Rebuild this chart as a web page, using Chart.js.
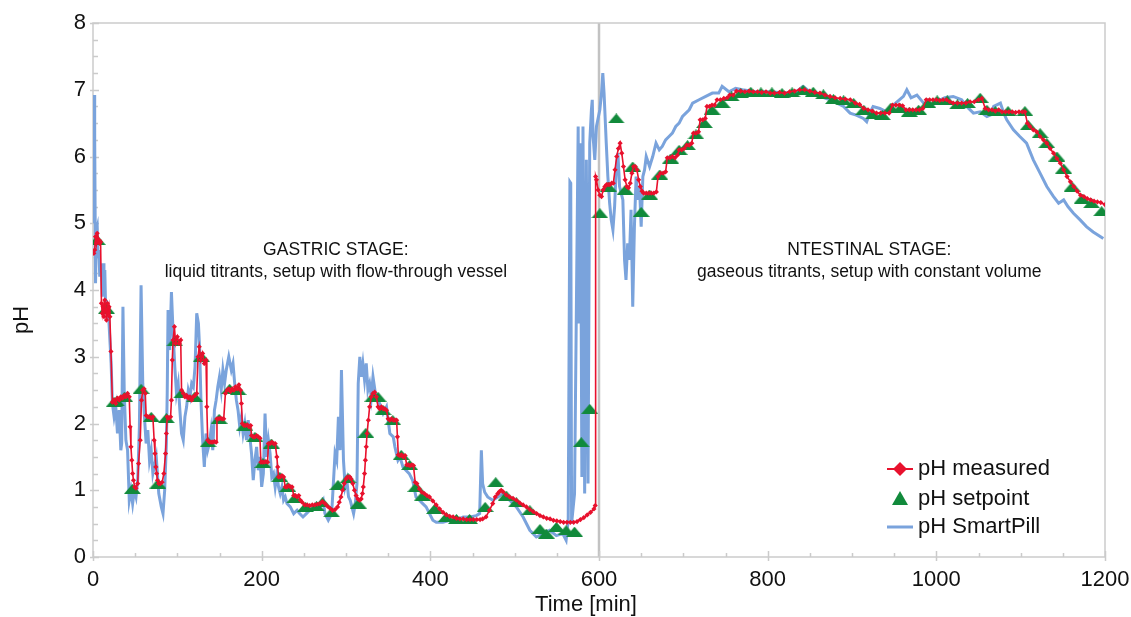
<!DOCTYPE html>
<html>
<head>
<meta charset="utf-8">
<script src="https://cdn.jsdelivr.net/npm/chart.js@4.4.1/dist/chart.umd.min.js"></script>
<style>
body { margin: 0; background: #fff; }
</style>
</head>
<body>
<canvas id="phChart" width="1131" height="617"></canvas>
<script>
// pH measured (red)
const measuredTime = [1,2,3,4,5,6,7,8,9,10,11,12,13,14,15,16,17,18,19,20,21.3,23,25,27,29,31,33,35,37,39,41,43,44,45,46,47,48,49.5,51,53,54,56,57.5,59,60.5,62,63,65,67,69,71,72.5,73.5,74.5,75.5,76.5,78,80,82,84,86,87,88,90,92,93,94,95,96.5,98,100,102,104,105,107,109,111,113,115,117,119,121,123,124.5,126,128,130,132,134,135,136,138,140,142,144,146,147,149,151,153,155,157,159,161,163,165,167,169,171,173,175,176,177,179,181,183,185,187,188,190,192,194,196,198,199,201,203,205,207,208,210,212,214,216,218,219,220,222,224,226,228,230,232,234,236,238,240,242,244,246,248,251,254,257,260,263,266,269,272,275,278,281,284,287,290,292,294,296,298,300,302,304.5,306,308,310,312,314,316,318,319.5,320.5,322,323,324,325,326.5,328,330,332,334,336,338,340,342,344,346,348,350,352,354,356,358,360,361,362,364,366,368,370,372,374,376,378,380,382,384,387,390,393,396,399,403,407,411,415,419,423,427,431,435,439,443,447,451,455,459,462,466,470,474,477,480,482,484,486,490,494,498,502,506,510,514,518,522,526,530,534,538,542,546,550,554,558,562,566,570,574,578,582,586,590,594,595.5,596,597,599,601,603,605,607,609,611,613,615,617,619,621,623,625,627,629,631,633,635,637,639,641,643,645,647,649,651,653,656,659,662,665,668,670,673,676,679,681,684,687,690,693,695,698,701,704,707,710,712,715,718,720,723,726,728,731,734,737,740,744,748,752,755,759,763,768,773,778,783,788,793,798,803,808,814,820,826,832,838,844,850,856,862,868,874,880,886,892,898,904,909,914,919,924,929,934,939,944,948,952,956,960,964,968,972,976,980,984,988,992,996,1000,1004,1008,1012,1016,1020,1025,1030,1035,1040,1045,1050,1054,1058,1062,1066,1070,1074,1078,1082,1086,1090,1094,1098,1102,1105,1108,1111,1115,1119,1123,1127,1131,1135,1139,1143,1147,1151,1155,1159,1163,1167,1171,1175,1179,1183,1187,1191,1195,1200];
const measuredPH = [4.55,4.6,4.8,4.7,4.85,4.72,4.75,4.7,4.72,3.8,3.65,3.75,3.6,3.85,3.7,3.55,3.8,3.65,3.75,3.6,3.08,2.32,2.35,2.3,2.38,2.35,2.4,2.38,2.42,2.4,2.45,2.4,1.95,1.65,1.45,1.25,1.15,1.05,1.03,1.1,1.4,1.75,2.35,2.5,2.52,2.45,2.12,2.1,2.1,2.08,2.1,1.75,1.55,1.35,1.25,1.15,1.1,1.1,1.12,1.25,1.55,1.85,2.1,2.08,2.1,2.35,2.95,3.25,3.45,3.2,3.3,3.2,3.25,2.5,2.45,2.4,2.42,2.38,2.4,2.35,2.4,2.42,2.45,3.0,3.15,2.95,3.05,2.9,2.95,2.25,1.75,1.72,1.72,1.72,1.73,1.72,2.07,2.07,2.08,2.07,2.07,2.45,2.5,2.52,2.48,2.52,2.5,2.55,2.52,2.58,2.5,2.3,2.0,1.97,1.97,1.98,1.95,1.97,1.82,1.8,1.8,1.82,1.8,1.78,1.42,1.42,1.42,1.43,1.42,1.7,1.7,1.72,1.7,1.7,1.5,1.35,1.2,1.2,1.22,1.2,1.05,1.05,1.07,1.05,1.05,0.92,0.92,0.9,0.92,0.85,0.82,0.78,0.78,0.77,0.78,0.78,0.79,0.8,0.83,0.8,0.76,0.73,0.7,0.71,0.75,0.82,0.9,1.0,1.1,1.17,1.2,1.2,1.17,1.1,1.0,0.92,0.87,0.85,0.87,0.95,1.05,1.25,1.45,1.65,1.85,2.05,2.25,2.4,2.45,2.47,2.4,2.25,2.22,2.25,2.22,2.22,2.2,2.07,2.05,2.07,2.05,2.05,2.05,1.8,1.53,1.52,1.53,1.5,1.52,1.38,1.38,1.37,1.38,1.37,1.12,1.1,1.02,0.97,0.95,0.92,0.9,0.84,0.78,0.72,0.67,0.63,0.61,0.6,0.58,0.57,0.57,0.56,0.56,0.56,0.56,0.56,0.57,0.6,0.7,0.8,0.9,0.95,0.98,1.0,0.98,0.93,0.9,0.88,0.85,0.81,0.78,0.75,0.71,0.68,0.65,0.62,0.6,0.58,0.57,0.55,0.54,0.53,0.52,0.52,0.52,0.52,0.53,0.56,0.59,0.63,0.67,0.72,0.77,5.7,5.65,5.5,5.42,5.4,5.5,5.55,5.58,5.58,5.58,5.6,5.6,5.8,6.0,6.12,6.2,6.05,5.85,5.65,5.55,5.53,5.6,5.75,5.85,5.85,5.8,5.65,5.55,5.48,5.45,5.45,5.45,5.45,5.45,5.47,5.7,5.75,5.75,5.77,5.98,5.98,6.0,5.98,6.02,6.1,6.1,6.12,6.17,6.17,6.2,6.35,6.35,6.37,6.55,6.55,6.57,6.75,6.75,6.77,6.77,6.85,6.85,6.87,6.88,6.92,6.92,6.98,6.98,6.97,6.98,6.97,6.97,6.96,6.97,6.95,6.95,6.96,6.95,6.97,6.98,7.0,7.0,6.98,6.96,6.95,6.92,6.9,6.88,6.87,6.86,6.85,6.8,6.78,6.72,6.7,6.68,6.65,6.65,6.65,6.65,6.77,6.77,6.77,6.76,6.7,6.7,6.7,6.7,6.7,6.72,6.85,6.85,6.85,6.85,6.84,6.85,6.85,6.82,6.8,6.8,6.8,6.8,6.82,6.82,6.85,6.87,6.72,6.7,6.7,6.68,6.7,6.67,6.67,6.67,6.67,6.66,6.67,6.67,6.67,6.5,6.45,6.4,6.37,6.3,6.25,6.2,6.12,6.05,5.97,5.9,5.8,5.7,5.62,5.55,5.48,5.42,5.4,5.37,5.35,5.33,5.32,5.31,5.28];

// pH setpoint (green triangles)
const setpointTime = [5,16,25,28,37.5,46.7,57,69,77,87,97,105,120.5,128.5,136.5,149.5,162,172,180,192,201.5,211.5,221.5,231,239,252,265,272,283,290.5,302.5,314.5,323.5,332,338,344,355.5,365.5,375.5,383,391,405,419,431,446.5,465,477.5,490,502,518,530,537.5,549.5,561,571,579,589,601,611,620.5,631,640,650,660,672,685,695,705,715,725,734,746,757,768,780,792,805,817,829,842,854,866,878,890,902,914,925,936,946,957,968,979,990,1001,1013,1025,1037,1052,1060,1070,1085,1105,1109,1123,1131,1143,1151,1161,1173,1184,1196];
const setpointPH = [4.75,3.72,2.32,2.33,2.4,1.02,2.52,2.1,1.1,2.08,3.23,2.45,2.4,3.0,1.72,2.07,2.52,2.5,1.97,1.8,1.41,1.7,1.2,1.05,0.88,0.75,0.76,0.82,0.67,1.08,1.18,0.8,1.86,2.4,2.4,2.2,2.05,1.53,1.38,1.05,0.92,0.72,0.6,0.57,0.57,0.75,1.12,0.92,0.82,0.7,0.42,0.35,0.45,0.4,0.38,1.72,2.22,5.15,5.55,6.57,5.5,5.85,5.17,5.43,5.73,5.97,6.1,6.17,6.33,6.5,6.7,6.8,6.9,6.95,6.97,6.96,6.96,6.95,6.96,7.0,6.97,6.93,6.86,6.84,6.8,6.7,6.63,6.62,6.73,6.72,6.67,6.7,6.8,6.84,6.84,6.78,6.8,6.88,6.7,6.68,6.68,6.68,6.47,6.35,6.2,6.0,5.82,5.55,5.37,5.3,5.18];

// pH SmartPill (blue line)
const pillTime = [0.3,1.2,2,3,4,5,6,7,8,9,10,11,12,13,14,15,16,17,18,19,20,21.5,23,25,27,29,31,33,34,35.5,37,39,41,43,45,47,49,51,53,55,57,59,61,63,65,67,69,71,75,78,81,83,85,87,88,89,91,93,95,97,99,101,103,105,107,109,111,113,115,117,119,121,123,125,126.5,128,130,132,134,136,138,140,142,144,146,148,150,152,154,156,158,161,164,166,168,170,172,174,176,178,180,182,184,186,188,190,192,194,196,198,200,202,204,206,208,210,212,214,216,218,220,222,224,226,228,230,234,238,242,245,249,253,257,261,265,269,273,275,279,283,285,287,289,291,293,294.6,297,299,301,303,305,307,309,311,313,314.5,316.4,318,320,322,324,326,328,330,332,336,340,344,348,352,356,358,361.6,364,367.5,371,375,379,383,387,391,395,399,403,407,415,423,431,439,447,454.5,458.5,460.5,462,464.5,468,474,480,486,494,502,510,518,525.7,533.6,541.5,549.4,557,561,563.5,565.5,566.5,567.5,571,575.3,576.5,578,579.7,581,583,585,587,589,591,592,593,595,597,601,603,604.5,606,608.6,610.5,612.6,614.5,616.5,618.5,620.4,622.4,624.4,626.3,628.3,630.3,632,634,636,638,640,642,644,646,648,650,652,654,656,660,663.7,667.6,671.5,675,679,683,687,691,695,699,703,707,711,718.7,726.6,734.4,742,746,754,762,770,785.5,803,820,834,842,852,862,874,890,897.7,905,913.5,917.4,921,925,933,941,950,961,965,970,977,985,992.5,1000,1010,1020,1030,1036,1044,1052,1060,1064,1068,1076,1080,1083.5,1091.4,1099,1107,1115,1123,1131,1139,1145,1151,1156,1162.6,1170.5,1178,1186,1198];
const pillPH = [5.0,6.92,6.3,4.1,4.9,4.95,4.5,4.6,4.2,4.35,4.3,3.9,4.4,4.0,4.3,3.7,3.85,3.55,3.7,3.5,3.5,2.9,2.3,2.1,2.25,1.85,2.2,1.6,1.7,3.75,2.5,1.75,1.6,0.85,1.0,0.8,1.0,0.9,1.15,1.95,4.07,2.6,2.1,1.7,1.9,1.45,1.6,1.25,1.5,0.95,0.75,0.65,1.0,1.7,2.45,3.7,3.1,3.97,3.35,2.85,2.45,2.6,2.2,1.85,1.75,2.1,2.25,2.5,2.4,2.6,2.55,2.85,3.65,3.5,3.1,2.35,1.75,1.35,1.85,1.6,1.7,1.9,1.6,2.2,2.35,2.55,2.7,2.5,2.8,2.6,2.8,3.0,2.8,2.9,2.6,2.35,2.2,1.95,2.1,1.85,2.0,1.75,2.05,1.8,1.55,1.15,1.45,1.65,1.3,1.5,1.05,1.25,2.15,1.5,1.75,1.55,1.2,1.25,1.05,1.25,1.05,0.95,1.05,0.85,0.9,0.8,0.75,0.65,0.7,0.65,0.6,0.65,0.7,0.75,0.8,0.75,0.85,0.65,0.55,0.65,1.1,1.55,1.45,2.1,1.6,2.8,1.45,1.05,1.15,0.9,0.85,0.75,0.65,0.8,1.1,2.6,3.0,2.7,2.9,2.65,2.9,2.5,2.6,2.4,2.7,2.35,2.3,2.15,2.25,1.85,1.8,1.65,1.45,1.5,1.35,1.3,1.25,1.15,0.9,0.85,0.8,0.75,0.65,0.55,0.52,0.52,0.55,0.55,0.6,0.6,0.62,0.65,1.6,1.1,0.97,0.9,0.85,0.9,0.95,0.85,0.75,0.6,0.4,0.3,0.35,0.4,0.32,0.35,0.25,0.55,5.62,5.6,0.5,0.95,6.45,3.5,6.2,1.2,6.45,0.95,5.95,1.1,6.2,6.7,6.85,6.3,5.95,6.45,6.7,6.95,7.25,6.95,6.2,5.7,5.3,5.05,4.9,5.25,5.8,6.05,5.55,5.45,5.35,4.45,4.15,4.7,4.45,5.2,3.75,4.95,5.7,5.35,5.55,4.95,5.7,5.8,6.0,5.85,6.0,6.2,6.1,6.15,6.25,6.3,6.35,6.45,6.5,6.6,6.65,6.7,6.8,6.85,6.9,6.95,6.95,7.05,6.97,7.02,7.0,6.97,6.97,6.95,6.97,7.05,6.95,6.9,6.85,6.75,6.65,6.62,6.57,6.52,6.65,6.75,6.72,6.67,6.78,6.9,7.0,6.88,6.92,6.8,6.75,6.82,6.88,6.9,6.85,6.75,6.65,6.67,6.6,6.62,6.75,6.8,6.65,6.55,6.4,6.3,6.2,5.95,5.75,5.55,5.4,5.3,5.35,5.25,5.15,5.05,4.95,4.87,4.77];

const xTicks = [0, 200, 400, 600, 800, 1000, 1200];
const yTicks = [0, 1, 2, 3, 4, 5, 6, 7, 8];
const stageSplit = 600;

const toPoints = (ts, vs) => ts.map((t, i) => ({x: t, y: vs[i]}));

const RED = '#e8112d';
const GREEN = '#118a3b';
const BLUE = '#7aa3dc';
const FONT = "'Liberation Sans', Arial, sans-serif";

// flattened triangle used as marker for the setpoint
function flatTriangle(w, h, color) {
    const c = document.createElement('canvas');
    c.width = w;
    c.height = h;
    const g = c.getContext('2d');
    g.fillStyle = color;
    g.beginPath();
    g.moveTo(w / 2, 0);
    g.lineTo(w, h);
    g.lineTo(0, h);
    g.closePath();
    g.fill();
    return c;
}

const framePlugin = {
    id: 'frame',
    beforeDatasetsDraw(chart) {
        const {ctx, chartArea: a, scales: {x, y}} = chart;
        ctx.save();
        // divider between gastric and intestinal stage
        const xs = x.getPixelForValue(stageSplit);
        ctx.strokeStyle = '#c2c2c2';
        ctx.lineWidth = 2.5;
        ctx.beginPath();
        ctx.moveTo(xs, a.top);
        ctx.lineTo(xs, a.bottom);
        ctx.stroke();

        ctx.strokeStyle = '#cbcbcb';
        ctx.lineWidth = 1.5;
        ctx.strokeRect(a.left, a.top, a.right - a.left, a.bottom - a.top);
        ctx.beginPath();
        for (let v = 0; v <= 8; v += 0.25) {
            const py = Math.round(y.getPixelForValue(v)) + 0.5;
            const major = yTicks.includes(v);
            ctx.moveTo(a.left - (major ? 3 : 0), py);
            ctx.lineTo(a.left + (major ? 6 : 5), py);
        }
        for (let v = 0; v <= 1200; v += 50) {
            const px = Math.round(x.getPixelForValue(v)) + 0.5;
            const major = xTicks.includes(v);
            ctx.moveTo(px, a.bottom + (major ? 4 : 0));
            ctx.lineTo(px, a.bottom - (major ? 6 : 4));
        }
        ctx.stroke();
        ctx.restore();
    },
    afterDraw(chart) {
        const {ctx, chartArea: a, scales: {x, y}} = chart;
        ctx.save();
        ctx.fillStyle = '#111';
        ctx.textAlign = 'center';
        ctx.textBaseline = 'middle';

        // stage annotations
        ctx.font = '17.5px ' + FONT;
        ctx.fillText('GASTRIC STAGE:', x.getPixelForValue(288), y.getPixelForValue(4.6));
        ctx.fillText('liquid titrants, setup with flow-through vessel', x.getPixelForValue(288), y.getPixelForValue(4.27));
        ctx.fillText('NTESTINAL STAGE:', x.getPixelForValue(920.5), y.getPixelForValue(4.6));
        ctx.fillText('gaseous titrants, setup with constant volume', x.getPixelForValue(920.5), y.getPixelForValue(4.27));

        // axis titles
        ctx.font = '22px ' + FONT;
        ctx.fillText('Time [min]', 586, 605);
        ctx.save();
        ctx.translate(22, 320);
        ctx.rotate(-Math.PI / 2);
        ctx.fillText('pH', 0, 0);
        ctx.restore();

        // legend
        const lx = a.right - 205;
        const rows = [a.bottom - 88, a.bottom - 58, a.bottom - 30];
        ctx.lineWidth = 2;
        ctx.strokeStyle = RED;
        ctx.beginPath();
        ctx.moveTo(lx - 13, rows[0]);
        ctx.lineTo(lx + 13, rows[0]);
        ctx.stroke();
        ctx.fillStyle = RED;
        ctx.beginPath();
        ctx.moveTo(lx, rows[0] - 7);
        ctx.lineTo(lx + 7, rows[0]);
        ctx.lineTo(lx, rows[0] + 7);
        ctx.lineTo(lx - 7, rows[0]);
        ctx.closePath();
        ctx.fill();

        ctx.fillStyle = GREEN;
        ctx.beginPath();
        ctx.moveTo(lx, rows[1] - 8);
        ctx.lineTo(lx + 8, rows[1] + 6);
        ctx.lineTo(lx - 8, rows[1] + 6);
        ctx.closePath();
        ctx.fill();

        ctx.strokeStyle = BLUE;
        ctx.lineWidth = 3;
        ctx.beginPath();
        ctx.moveTo(lx - 13, rows[2]);
        ctx.lineTo(lx + 13, rows[2]);
        ctx.stroke();

        ctx.fillStyle = '#111';
        ctx.textAlign = 'left';
        ctx.font = '22px ' + FONT;
        ctx.fillText('pH measured', lx + 18, rows[0]);
        ctx.fillText('pH setpoint', lx + 18, rows[1]);
        ctx.fillText('pH SmartPill', lx + 18, rows[2]);
        ctx.restore();
    }
};

Chart.defaults.font.family = FONT;
Chart.defaults.font.size = 22;
Chart.defaults.color = '#111';

new Chart(document.getElementById('phChart'), {
    type: 'scatter',
    data: {
        datasets: [{
            label: 'pH measured',
            data: toPoints(measuredTime, measuredPH),
            showLine: true,
            borderColor: RED,
            backgroundColor: RED,
            borderWidth: 1.6,
            pointStyle: 'rectRot',
            pointRadius: 2.6,
            pointBorderWidth: 0
        }, {
            label: 'pH setpoint',
            data: toPoints(setpointTime, setpointPH),
            showLine: false,
            pointStyle: flatTriangle(17, 10, GREEN),
            pointRadius: 8
        }, {
            label: 'pH SmartPill',
            data: toPoints(pillTime, pillPH),
            showLine: true,
            borderColor: BLUE,
            borderWidth: 3,
            pointRadius: 0,
            tension: 0
        }]
    },
    options: {
        responsive: false,
        animation: false,
        layout: {padding: {top: 23, right: 26, left: 0, bottom: 0}},
        plugins: {
            legend: {display: false},
            tooltip: {enabled: false}
        },
        scales: {
            x: {
                type: 'linear',
                min: 0,
                max: 1200,
                afterFit: s => { s.height = 60; s.paddingLeft = 0; s.paddingRight = 0; },
                afterBuildTicks: s => { s.ticks = xTicks.map(v => ({value: v})); },
                grid: {display: false, drawTicks: false},
                border: {display: false},
                ticks: {padding: 10, callback: v => String(v)}
            },
            y: {
                min: 0,
                max: 8,
                afterFit: s => { s.width = 93; s.paddingTop = 0; s.paddingBottom = 0; },
                afterBuildTicks: s => { s.ticks = yTicks.map(v => ({value: v})); },
                grid: {display: false, drawTicks: false},
                border: {display: false},
                ticks: {padding: 7, callback: v => String(v)}
            }
        }
    },
    plugins: [framePlugin]
});
</script>
</body>
</html>
